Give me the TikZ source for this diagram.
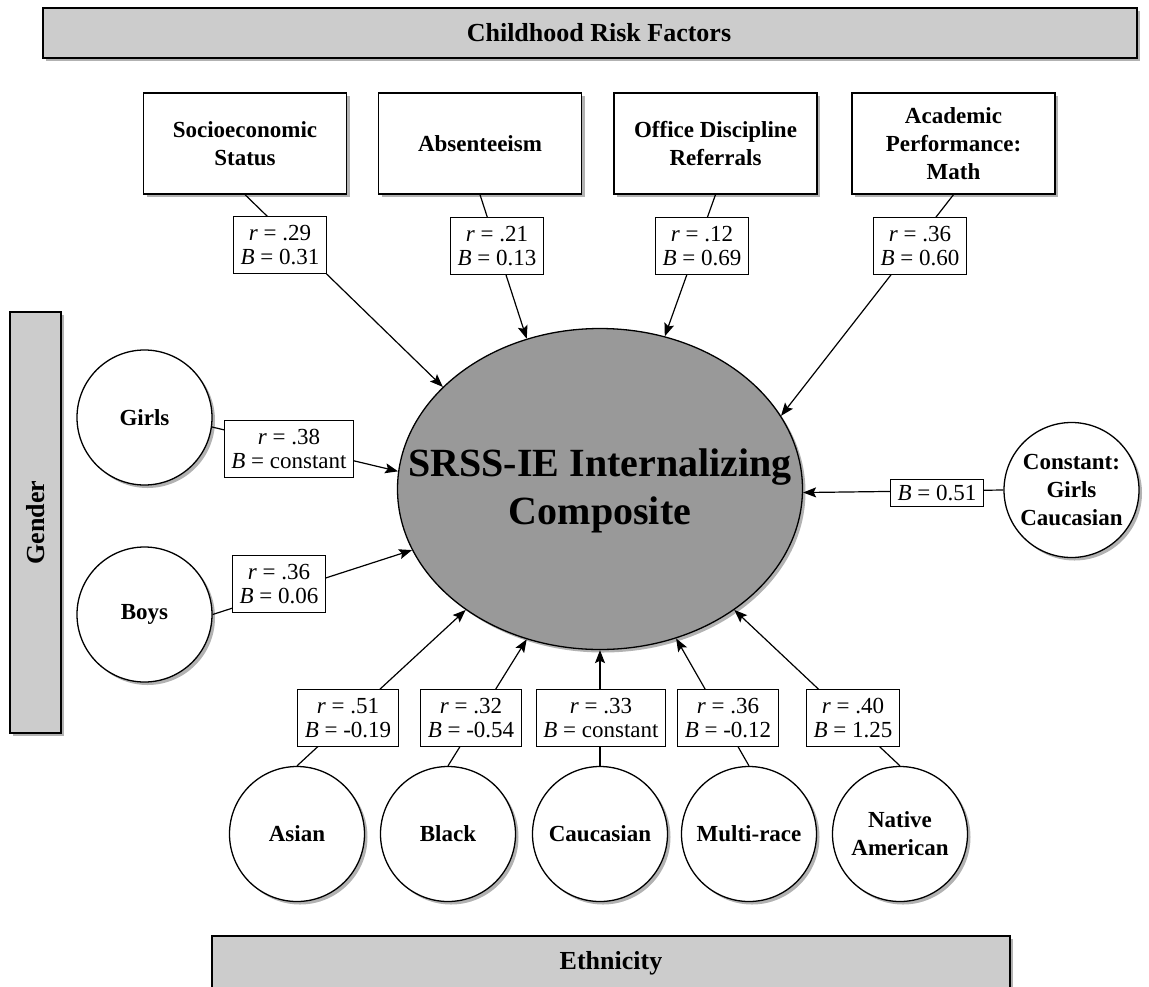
\documentclass[tikz,border=0pt]{standalone}
\usepackage{fontspec}
\setmainfont{Liberation Serif}
\usetikzlibrary{shapes.geometric,arrows.meta,shadows}

\definecolor{bannergray}{RGB}{204,204,204}
\definecolor{coregray}{RGB}{153,153,153}

\tikzset{
  softshadow/.style={drop shadow={shadow xshift=3pt,shadow yshift=-3pt,fill=black,opacity=0.3}},
  banner/.style={draw,line width=1.4pt,fill=bannergray,inner sep=0pt,
    font=\fontsize{26}{30}\selectfont\bfseries,softshadow},
  factor/.style={draw,line width=1.3pt,fill=white,minimum width=203pt,minimum height=101pt,
    inner sep=2pt,align=center,font=\fontsize{23}{28}\selectfont\bfseries,softshadow},
  groupnode/.style={circle,draw,line width=1.3pt,fill=white,minimum size=135pt,inner sep=0pt,
    align=center,font=\fontsize{23}{28}\selectfont\bfseries,softshadow},
  coef/.style={draw,line width=1.1pt,fill=white,align=center,inner xsep=7pt,inner ysep=9pt,
    font=\fontsize{23}{24}\selectfont},
  core/.style={ellipse,draw,line width=1.3pt,fill=coregray,minimum width=405pt,
    minimum height=321pt,inner sep=0pt,softshadow},
  coretext/.style={align=center,font=\fontsize{40}{48}\selectfont\bfseries},
  link/.style={line width=1.2pt,-{Stealth[length=13pt,width=10pt,inset=2.5pt]}}
}

\begin{document}
\begin{tikzpicture}[x=1pt,y=-1pt]
\useasboundingbox (0,0) rectangle (1149,986);

% group banners
\node[banner,minimum width=1094pt,minimum height=50pt] (risk) at (590,33) {\hspace*{18pt}Childhood Risk Factors};
\node[banner,minimum width=51pt,minimum height=421pt] (gender) at (35.5,522.5) {\rotatebox{90}{Gender}};
\node[banner,minimum width=798pt,minimum height=54pt] (ethnic) at (611,963) {Ethnicity};

% childhood risk factors
\node[factor] (ses)  at (245,143.5)   {Socioeconomic\\Status};
\node[factor] (abs)  at (480,143.5)   {Absenteeism};
\node[factor] (odr)  at (715.5,143.5) {Office Discipline\\Referrals};
\node[factor] (math) at (953.5,143.5) {Academic\\Performance:\\Math};

% gender, constant and ethnicity groups
\node[groupnode] (girls)  at (144.5,417.5) {Girls};
\node[groupnode] (boys)   at (144.5,614.5) {Boys};
\node[groupnode] (const)  at (1071.5,490)  {Constant:\\Girls\\Caucasian};
\node[groupnode] (asian)  at (297,834) {Asian};
\node[groupnode] (black)  at (448,834) {Black};
\node[groupnode] (cauc)   at (600,834) {Caucasian};
\node[groupnode] (multi)  at (749,834) {Multi-race};
\node[groupnode] (native) at (900,834) {Native\\American};

% outcome
\node[core] (ell) at (600,489) {};
\node[coretext] (elltext) at (600,491) {SRSS-IE Internalizing\\Composite};

% paths into the composite
\draw[link] (ses.south)    -- (ell.147);
\draw[link] (abs.south)    -- (ell.116);
\draw[link] (odr.south)    -- (ell.67);
\draw[link] (math.south)   -- (ell.22);
\draw[link] (girls.-8)     -- (ell.175);
\draw[link] (boys.east)    -- (ell.198);
\draw[link] (const.west)   -- (ell.-1);
\draw[link] (asian.north)  -- (ell.222);
\draw[link] (black.north)  -- (ell.244);
\draw[link] (cauc.north)   -- (ell.south);
\draw[link] (multi.north)  -- (ell.297);
\draw[link] (native.north) -- (ell.318);

% coefficients on the paths
\node[coef] (c-ses)    at (280,245) {\textit{r} = .29\\\textit{B} = 0.31};
\node[coef] (c-abs)    at (497,246) {\textit{r} = .21\\\textit{B} = 0.13};
\node[coef] (c-odr)    at (702,246) {\textit{r} = .12\\\textit{B} = 0.69};
\node[coef] (c-math)   at (920,246) {\textit{r} = .36\\\textit{B} = 0.60};
\node[coef] (c-girls)  at (289,449) {\textit{r} = .38\\\textit{B} = constant};
\node[coef] (c-boys)   at (279,584) {\textit{r} = .36\\\textit{B} = 0.06};
\node[coef,inner ysep=6pt] (c-const) at (937,493) {\textit{B} = 0.51};
\node[coef] (c-asian)  at (348,718) {\textit{r} = .51\\\textit{B} = -0.19};
\node[coef] (c-black)  at (471,718) {\textit{r} = .32\\\textit{B} = -0.54};
\node[coef] (c-cauc)   at (601,718) {\textit{r} = .33\\\textit{B} = constant};
\node[coef] (c-multi)  at (728,718) {\textit{r} = .36\\\textit{B} = -0.12};
\node[coef] (c-native) at (853,718) {\textit{r} = .40\\\textit{B} = 1.25};
\end{tikzpicture}
\end{document}
